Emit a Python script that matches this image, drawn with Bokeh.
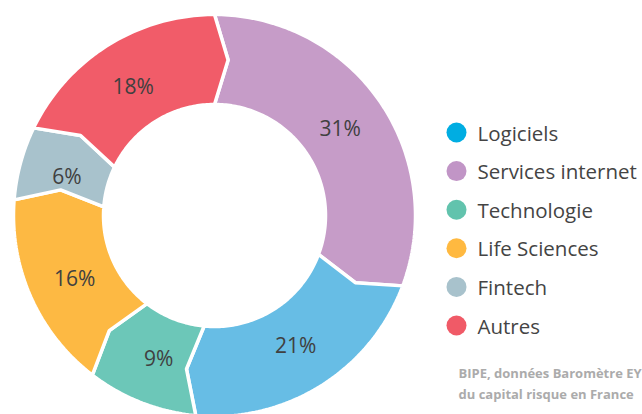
import numpy as np
from bokeh.plotting import figure
from bokeh.models import Range1d
from bokeh.core.properties import value
from bokeh.embed import file_html
from bokeh.resources import INLINE

# ---- data ----
categories = ["Logiciels", "Services internet", "Technologie", "Life Sciences", "Fintech", "Autres"]
shares = [21, 31, 9, 16, 6, 18]
slice_colors = ["#67bde5", "#c69cc8", "#6cc7b8", "#fdb943", "#a8c2cc", "#f15c69"]
legend_colors = ["#00ade2", "#c195c6", "#62c3ad", "#ffb940", "#a8c2cc", "#f05a67"]
# clockwise drawing order starting at 12 o'clock
draw_order = ["Services internet", "Logiciels", "Technologie", "Life Sciences", "Fintech", "Autres"]
source_lines = ["BIPE, données Baromètre EY", "du capital risque en France"]

W, H = 642, 414
p = figure(width=W, height=H, x_range=Range1d(0, W), y_range=Range1d(H, 0),
           output_backend="svg", toolbar_location=None, min_border=0)
p.axis.visible = False
p.grid.visible = False
p.outline_line_color = None
p.background_fill_color = "white"
p.border_fill_color = "white"

cx, cy = 214, 215
R_out, R_in = 201, 111
R_mid = (R_out + R_in) / 2
delta = np.radians(5.0)
label_r = 153

total = float(sum(shares))
idx = [categories.index(c) for c in draw_order]
vals = np.array([shares[i] for i in idx], dtype=float)
spans = vals / total * 2 * np.pi
starts = np.pi / 2 - np.concatenate([[0], np.cumsum(spans)[:-1]])
ends = starts - spans

def pt(r, a):
    return cx + r * np.cos(a), cy - r * np.sin(a)

xs, ys, fills, lx, ly, ltxt = [], [], [], [], [], []
for k, i in enumerate(idx):
    a0, a1 = starts[k], ends[k]
    n = max(int(abs(a1 - a0) / np.radians(1)) + 2, 4)
    outer = np.linspace(a0, a1, n)
    inner = np.linspace(a1, a0, n)
    px, py = [], []
    for a in outer:
        x, y = pt(R_out, a); px.append(x); py.append(y)
    x, y = pt(R_mid, a1 - delta); px.append(x); py.append(y)
    for a in inner:
        x, y = pt(R_in, a); px.append(x); py.append(y)
    x, y = pt(R_mid, a0 - delta); px.append(x); py.append(y)
    xs.append(px); ys.append(py); fills.append(slice_colors[i])
    am = (a0 + a1) / 2
    x, y = pt(label_r, am)
    lx.append(x); ly.append(y); ltxt.append(f"{shares[i]}%")

p.patches(xs=xs, ys=ys, fill_color=fills, line_color="white", line_width=3.5)
p.text(x=lx, y=ly, text=ltxt, text_align="center", text_baseline="middle",
       text_font=value("Open Sans"), text_font_size="21px", text_color="#404040")

# legend
leg_y = [132 + j * 38.6 for j in range(len(categories))]
p.scatter(x=[456] * len(categories), y=leg_y, size=20, marker="circle",
          fill_color=legend_colors, line_color=None)
p.text(x=[477] * len(categories), y=leg_y, text=categories, text_align="left",
       text_baseline="middle", text_font=value("Open Sans"), text_font_size="20.5px",
       text_color="#444444")

# source
p.text(x=[458, 458], y=[372, 393], text=source_lines, text_align="left",
       text_baseline="middle", text_font=value("Open Sans"), text_font_size="13px",
       text_font_style="bold", text_color="#ababab")

open("out.html", "w").write(file_html(p, INLINE))
